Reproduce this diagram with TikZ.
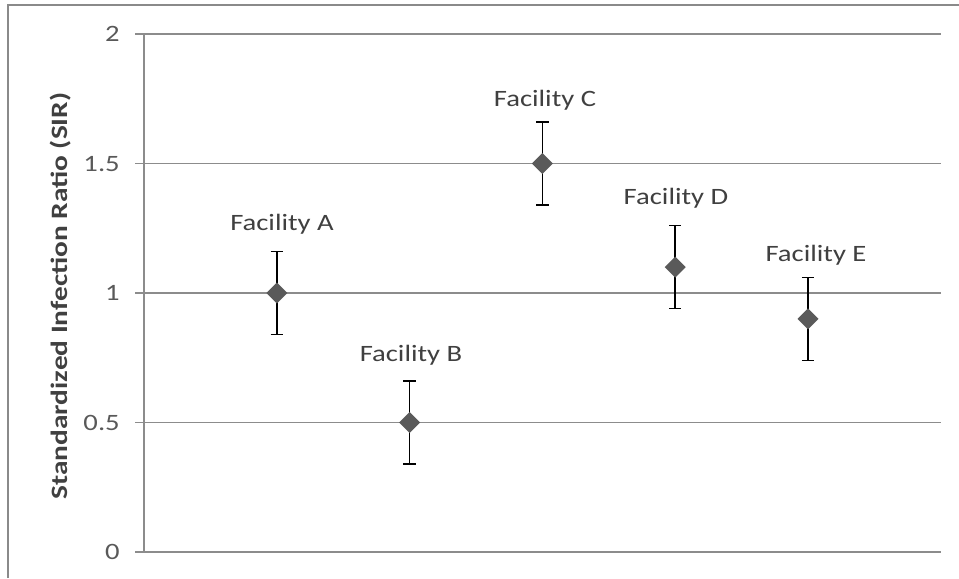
\documentclass[tikz,border=0pt]{standalone}
\usepackage{fontspec}
\usetikzlibrary{calc}
\newfontfamily\labfont{Carlito}[FakeStretch=1.22]
\newfontfamily\titfont{Carlito}[FakeStretch=1.25,BoldFont={Carlito Bold}]
\definecolor{txt}{HTML}{404040}
\definecolor{tick}{HTML}{595959}
\definecolor{grid}{HTML}{8C8C8C}
\definecolor{frame}{HTML}{8A8A8A}
\definecolor{mark}{HTML}{5A5A5A}
\tikzset{
  gridline/.style={draw=grid, line width=1.1pt},
  ticklab/.style={anchor=base east, inner sep=0pt, text=tick, font=\labfont\fontsize{17.6}{20}\selectfont},
  faclab/.style={anchor=base, inner sep=0pt, text=txt, font=\labfont\fontsize{17.6}{20}\selectfont},
  errbar/.style={draw=black, line width=1.1pt},
  diam/.style={fill=mark, draw=none},
}
\begin{document}
\begin{tikzpicture}[x=0.75pt,y=-0.75pt]
\useasboundingbox (0,0) rectangle (959,578);
% outer frame
\draw[frame, line width=1pt] (8,578) -- (8,5) -- (959,5);
% axis coordinates
\coordinate (ax0) at (144,552);
\coordinate (axtop) at (144,34);
% gridlines and ticks
\foreach \v/\lab in {0/0,0.5/0.5,1/1,1.5/1.5,2/2}{
  \pgfmathsetmacro{\yy}{552-259*\v}
  \draw[gridline] (135,\yy) -- (941,\yy);
  \node[ticklab] at (120,\yy+7.5) {\lab};
}
\draw[gridline] (ax0) -- (axtop);
% axis title
\node[rotate=90, inner sep=0pt, text=txt, font=\titfont\bfseries\fontsize{17.6}{20}\selectfont] (title) at (61,296) {Standardized Infection Ratio (SIR)};
% data points
\foreach \n/\i/\v/\lx/\ly in {A/1/1.0/282/230.7, B/2/0.5/411/361.7, C/3/1.5/545/106, D/4/1.1/676/204.3, E/5/0.9/816/261.7}{
  \pgfmathsetmacro{\xx}{144+132.8*\i}
  \pgfmathsetmacro{\yy}{552-259*\v}
  \coordinate (p\n) at (\xx,\yy);
  \coordinate (t\n) at (\xx,\yy-41.5);
  \coordinate (b\n) at (\xx,\yy+41.5);
  \draw[errbar] (t\n) -- (b\n);
  \draw[errbar] ($(t\n)+(-6.2,0)$) -- ($(t\n)+(6.2,0)$);
  \draw[errbar] ($(b\n)+(-6.2,0)$) -- ($(b\n)+(6.2,0)$);
  \fill[diam] ($(p\n)+(-10.5,0)$) -- ($(p\n)+(0,-10.5)$) -- ($(p\n)+(10.5,0)$) -- ($(p\n)+(0,10.5)$) -- cycle;
  \node[faclab] (l\n) at (\lx,\ly) {Facility \n};
}
\end{tikzpicture}
\end{document}
